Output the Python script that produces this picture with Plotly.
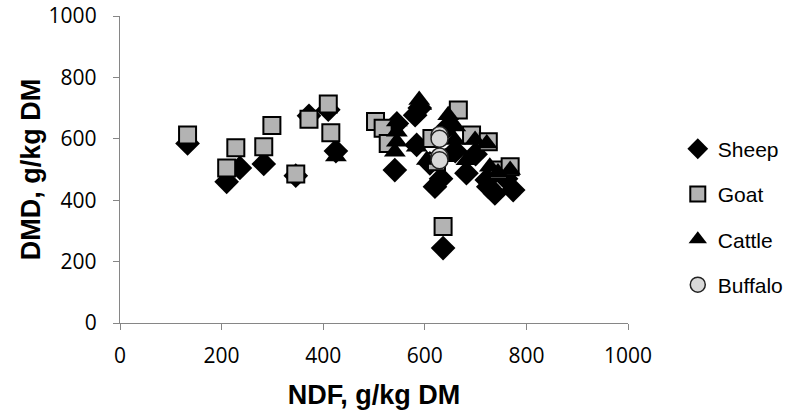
import plotly.graph_objects as go

sheep_ndf = [133, 210, 236, 283, 346, 372, 410, 425, 541, 545, 581, 590, 584, 620, 632, 636, 646, 660, 682, 700, 722, 725, 738, 774, 760, 610]
sheep_dmd = [585, 460, 505, 518, 480, 675, 695, 560, 498, 650, 677, 700, 580, 444, 470, 244, 640, 560, 488, 550, 466, 444, 422, 433, 470, 520]

goat_ndf = [133, 210, 228, 283, 299, 346, 372, 410, 415, 503, 518, 528, 614, 623, 636, 666, 692, 725, 745, 768]
goat_dmd = [612, 505, 571, 574, 643, 485, 664, 713, 620, 656, 634, 585, 601, 525, 314, 694, 612, 590, 498, 509]

cattle_ndf = [425, 545, 545, 541, 545, 589, 593, 584, 604, 646, 659, 682, 699, 722, 728, 744, 768, 640, 660]
cattle_dmd = [542, 656, 623, 558, 590, 726, 710, 574, 531, 677, 596, 530, 596, 585, 509, 490, 498, 540, 640]

buffalo_ndf = [629, 629, 629, 629]
buffalo_dmd = [612, 600, 542, 530]

x_ticks = [0, 200, 400, 600, 800, 1000]
y_ticks = [0, 200, 400, 600, 800, 1000]

styles = {
    "Sheep": dict(symbol="diamond", color="black", line=dict(width=0)),
    "Goat": dict(symbol="square", color="#b3b3b3", line=dict(width=2, color="black")),
    "Cattle": dict(symbol="triangle-up", color="black", line=dict(width=0)),
    "Buffalo": dict(symbol="circle", color="#d9d9d9", line=dict(width=1.5, color="#222222")),
}
plot_sizes = {"Sheep": 19, "Goat": 17, "Cattle": 19, "Buffalo": 17}
legend_sizes = {"Sheep": 16, "Goat": 15, "Cattle": 16, "Buffalo": 15}
data = {
    "Sheep": (sheep_ndf, sheep_dmd),
    "Goat": (goat_ndf, goat_dmd),
    "Cattle": (cattle_ndf, cattle_dmd),
    "Buffalo": (buffalo_ndf, buffalo_dmd),
}

fig = go.Figure()
for name, (xs, ys) in data.items():
    fig.add_trace(go.Scatter(x=xs, y=ys, mode="markers", name=name, showlegend=False,
                             marker=dict(size=plot_sizes[name], **styles[name])))
for name in data:
    fig.add_trace(go.Scatter(x=[None], y=[None], mode="markers", name=name, legendgroup=name,
                             marker=dict(size=legend_sizes[name], **styles[name])))

axis_common = dict(showgrid=False, zeroline=False, showline=True, linecolor="#868686", linewidth=1.3,
                   ticks="outside", ticklen=6, tickcolor="#868686", tickwidth=1.3, automargin=False,
                   ticklabeloverflow="allow",
                   tickfont=dict(family="Open Sans, Liberation Sans, Arial", size=21, color="black"))

fig.update_layout(
    width=801, height=416,
    margin=dict(l=120, r=173, t=16, b=93),
    plot_bgcolor="white", paper_bgcolor="white",
    xaxis=dict(range=[0, 1000], tickvals=x_ticks, ticklabelstandoff=8, **axis_common,
               title=dict(text="<b>NDF, g/kg DM</b>", font=dict(family="Liberation Sans, Arial", size=27, color="black"), standoff=16)),
    yaxis=dict(range=[0, 1000], tickvals=y_ticks, ticklabelstandoff=12, **axis_common,
               title=dict(text="<b>DMD, g/kg DM</b>", font=dict(family="Liberation Sans, Arial", size=27, color="black"), standoff=0)),
    legend=dict(x=1.098, y=0.345, xanchor="left", yanchor="middle", font=dict(family="Liberation Sans, Arial", size=21, color="black"),
                tracegroupgap=15, itemwidth=30, bgcolor="rgba(0,0,0,0)"),
    showlegend=True,
)

fig.write_html("out.html", config={"displayModeBar": False},
               post_script="document.body.style.margin='0';document.body.style.overflow='hidden';")
